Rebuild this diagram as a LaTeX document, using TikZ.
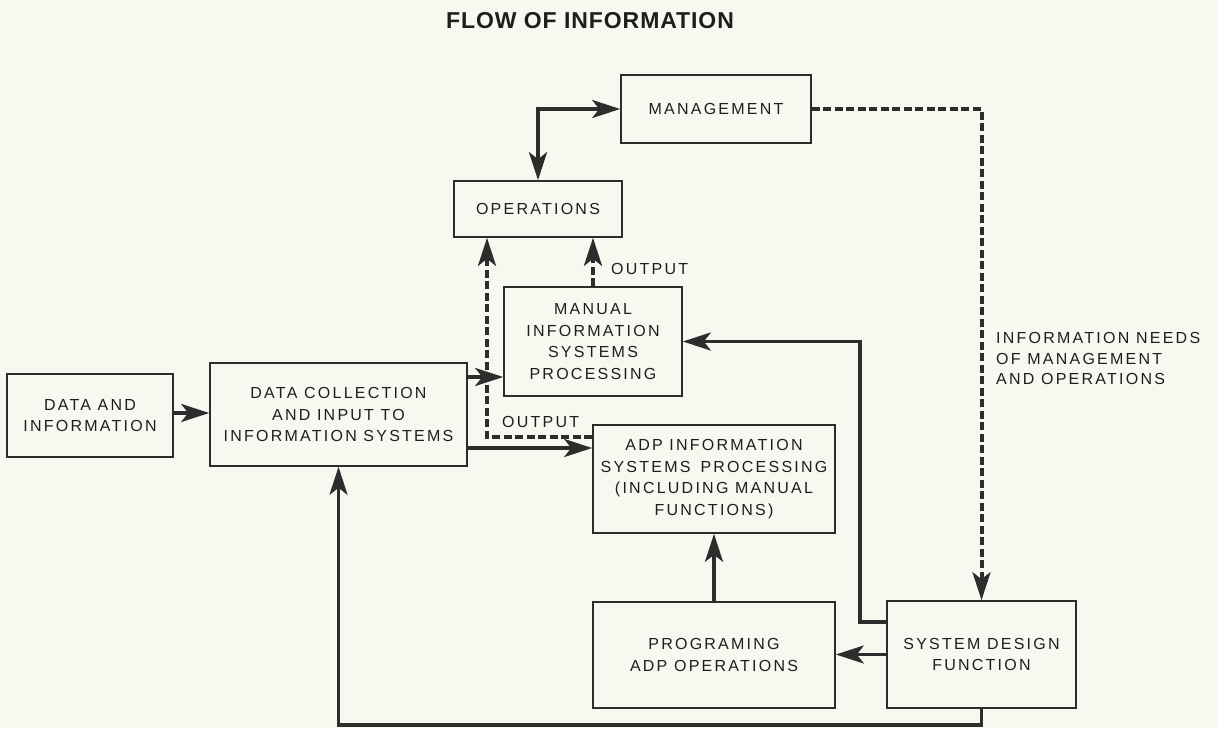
\documentclass[tikz,border=0pt]{standalone}
\usepackage{fontspec}
\usetikzlibrary{arrows.meta}
\newfontfamily\bodyfont[LetterSpace=14]{Liberation Sans}
\newfontfamily\titlefont[LetterSpace=4]{Liberation Sans}
\definecolor{paper}{RGB}{248,248,240}
\definecolor{ink}{RGB}{45,45,45}
\definecolor{inktext}{RGB}{30,30,30}
\tikzset{
  tip/.tip={Stealth[length=28pt,width=18pt,inset=7pt]},
  box/.style={draw=ink, line width=1.6pt, fill=paper, inner sep=0pt,
    align=center, text=inktext,
    font={\bodyfont\fontsize{16}{21.5}\selectfont}},
  lbl/.style={inner sep=0pt, text=inktext,
    font={\bodyfont\fontsize{16}{20.5}\selectfont}},
  conn/.style={draw=ink, line width=3.4pt, -tip},
  dconn/.style={conn, line width=4pt, dash pattern=on 8pt off 3.5pt}
}
\begin{document}
\begin{tikzpicture}[x=1pt,y=-1pt]
  \useasboundingbox (0,0) rectangle (1217,728);
  \fill[paper] (0,0) rectangle (1217,728);

  % title
  \node[text=inktext, font={\titlefont\bfseries\fontsize{23}{26}\selectfont}]
    (title) at (590,21) {FLOW OF INFORMATION};

  % blocks
  \node[box, minimum width=190pt, minimum height=68pt] (mgmt) at (716,109) {MANAGEMENT};
  \node[box, minimum width=168pt, minimum height=56pt] (ops) at (538,209) {OPERATIONS};
  \node[box, minimum width=178pt, minimum height=109pt] (man) at (593,341.5)
    {MANUAL\\INFORMATION\\SYSTEMS\\PROCESSING};
  \node[box, minimum width=166pt, minimum height=83pt] (data) at (90,415.5)
    {DATA AND\\INFORMATION};
  \node[box, minimum width=257pt, minimum height=103pt] (coll) at (338.5,414.5)
    {DATA COLLECTION\\AND INPUT TO\\INFORMATION SYSTEMS};
  \node[box, minimum width=242pt, minimum height=108pt] (adp) at (714,479)
    {ADP INFORMATION\\SYSTEMS\hspace{10pt}PROCESSING\\(INCLUDING MANUAL\\FUNCTIONS)};
  \node[box, minimum width=242pt, minimum height=106pt] (prog) at (714,655)
    {PROGRAMING\\ADP OPERATIONS};
  \node[box, minimum width=189pt, minimum height=107pt] (sd) at (981.5,654.5)
    {SYSTEM DESIGN\\FUNCTION};

  % turning points of the routed lines
  \coordinate (xout) at (487,0);
  \coordinate (xret) at (860,0);
  \coordinate (ybot) at (0,725);

  % dashed output lines
  \draw[dconn] (adp.west |- 0,437) -| (ops.south -| xout);
  \draw[dconn] (man.north) -- (ops.south -| man.north);
  \draw[dconn] (mgmt.east) -| (sd.north);

  % solid flow lines
  \draw[conn] (data.east |- 0,413) -- (coll.west |- 0,413);
  \draw[conn] (coll.east |- 0,377) -- (man.west |- 0,377);
  \draw[conn] (coll.east |- 0,448) -- (adp.west |- 0,448);
  \draw[conn, tip-tip] (ops.north) |- (mgmt.west);
  \draw[conn] (sd.west |- 0,622) -| (xret |- man.east) -- (man.east);
  \draw[conn] (sd.west) -- (prog.east |- sd.west);
  \draw[conn] (prog.north) -- (adp.south);
  \draw[conn] (sd.south) -- (sd.south |- ybot) -| (coll.south);

  % labels
  \node[lbl, anchor=west] (outa) at (611,269) {OUTPUT};
  \node[lbl, anchor=west] (outb) at (502,422) {OUTPUT};
  \node[lbl, anchor=west, align=left] (needs) at (996,358.5)
    {INFORMATION NEEDS\\OF MANAGEMENT\\AND OPERATIONS};
\end{tikzpicture}
\end{document}
